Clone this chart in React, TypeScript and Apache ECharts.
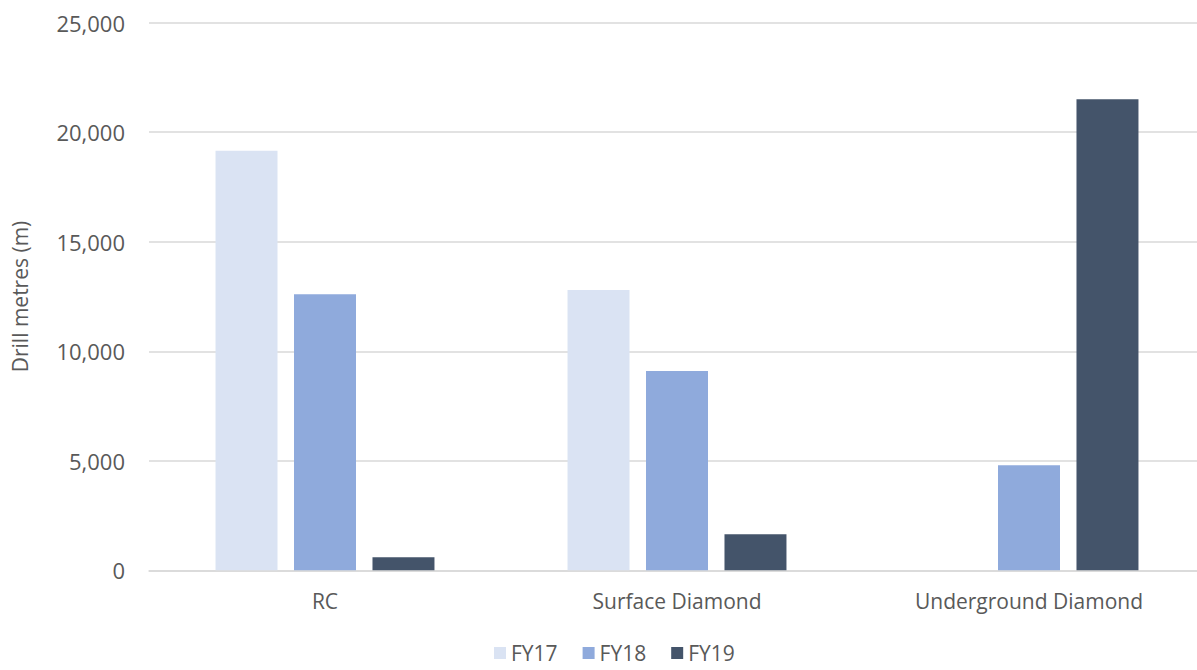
import React, { useEffect, useRef } from "react";
import * as echarts from "echarts";

const categories = ["RC", "Surface Diamond", "Underground Diamond"];
const seriesNames = ["FY17", "FY18", "FY19"];
const fy17 = [19150, 12800, 0];
const fy18 = [12600, 9100, 4800];
const fy19 = [600, 1650, 21500];
const colors = ["#DAE3F3", "#8FAADC", "#44546A"];
const yTicks = { min: 0, max: 25000, interval: 5000 };

export default function App() {
  const ref = useRef<HTMLDivElement>(null);
  useEffect(() => {
    if (!ref.current) return;
    const chart = echarts.init(ref.current, null, { renderer: "svg" });
    const font = "'Open Sans', sans-serif";
    const dataSets = [fy17, fy18, fy19];
    chart.setOption({
      animation: false,
      textStyle: { fontFamily: font },
      grid: {
        left: 149,
        width: 1056,
        top: 22.7,
        height: 547.6,
        containLabel: false,
        outerBoundsMode: "none",
      },
      legend: {
        data: seriesNames,
        top: 641,
        left: 494,
        padding: 0,
        itemWidth: 12,
        itemHeight: 12,
        itemGap: 25,
        icon: "rect",
        textStyle: { fontSize: 21, lineHeight: 24, color: "#595959", fontFamily: font },
      },
      xAxis: {
        type: "category",
        data: categories,
        axisLine: { show: true, lineStyle: { color: "#D9D9D9", width: 1.5 } },
        axisTick: { show: false },
        axisLabel: { fontSize: 21, color: "#595959", margin: 20, fontFamily: font },
      },
      yAxis: {
        type: "value",
        min: yTicks.min,
        max: yTicks.max,
        interval: yTicks.interval,
        name: "Drill metres (m)",
        nameLocation: "middle",
        nameGap: 119,
        nameTextStyle: { fontSize: 21, color: "#595959", fontFamily: font },
        axisLine: { show: false },
        axisTick: { show: false },
        axisLabel: {
          fontSize: 22,
          color: "#595959",
          margin: 24,
          fontFamily: font,
          formatter: (v: number) => v.toLocaleString("en-US"),
        },
        splitLine: { lineStyle: { color: "#D9D9D9", width: 1.5 } },
      },
      series: seriesNames.map((name, i) => ({
        name,
        type: "bar",
        data: dataSets[i],
        itemStyle: { color: colors[i] },
        barGap: "26.6%",
        barCategoryGap: "37.8%",
      })),
    });
    return () => chart.dispose();
  }, []);
  return <div ref={ref} style={{ width: 1197, height: 670, position: "absolute", left: 0, top: 0, overflow: "hidden" }} />;
}
